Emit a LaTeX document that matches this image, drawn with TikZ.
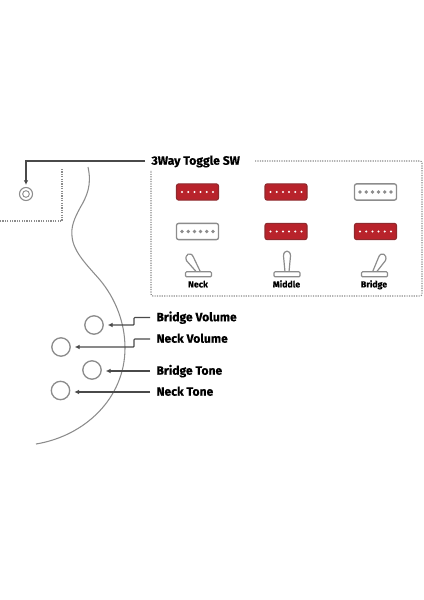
\documentclass[tikz,border=0pt]{standalone}
\usepackage{fontspec}
\setmainfont[BoldFeatures={FakeBold=0.35}]{Fira Sans}
\usetikzlibrary{arrows.meta}

\definecolor{pickred}{HTML}{B8232B}
\definecolor{pickedge}{HTML}{8E2A2E}
\definecolor{partgray}{HTML}{8C8C8C}
\definecolor{linegray}{HTML}{4A4A4A}

\tikzset{every picture/.style={line width=0.75pt}}
\tikzset{
  partlabel/.style={anchor=west, inner sep=0pt, text height=7.4pt, text depth=1.8pt, text=black, font=\fontsize{9.1}{11}\selectfont\bfseries},
  swlabel/.style={inner sep=0pt, text height=5pt, text depth=1.4pt, text=black, font=\fontsize{6.6}{8}\selectfont\bfseries},
  leader/.style={draw=linegray, line width=0.85pt, -{Latex[length=3.5pt,width=3.5pt]}, shorten <=4.5pt, shorten >=3pt},
  knob/.style={circle, draw=partgray, line width=1pt, minimum size=13.8pt, inner sep=0pt},
  dotbox/.style={draw=partgray, line width=0.9pt, dash pattern=on 0.9pt off 0.9pt},
  redpickup/.style={rectangle, rounded corners=1.6pt, draw=pickedge, fill=pickred, line width=0.8pt, minimum width=31.5pt, minimum height=12.2pt},
  whitepickup/.style={redpickup, draw=partgray, fill=white, line width=1pt}
}

\begin{document}
\begin{tikzpicture}[x=0.75pt, y=-0.75pt]
\useasboundingbox (0,0) rectangle (424,600);

% body outline
\draw[partgray, line width=0.8pt] (88,167) .. controls (92,185) and (87,196) .. (80,208)
    .. controls (74,219) and (71,227) .. (72,236)
    .. controls (73,252) and (88,266) .. (100,280)
    .. controls (115,298) and (125,322) .. (125,348)
    .. controls (125,398) and (85,436) .. (36,444);

% dotted edges
\draw[dotbox] (62,169) -- (62,221) -- (0,221);
\draw[dotbox, rounded corners=1.5pt] (255,161) -- (422,161) -- (422,296) -- (151,296) -- (151,170);

% jack
\node[knob, minimum size=9.8pt, line width=0.8pt] (jack) at (26,194) {};
\node[circle, draw=partgray, line width=0.7pt, minimum size=5pt, inner sep=0pt] (jackin) at (26,194) {};

% title
\node[partlabel] (title) at (151,161) {3Way Toggle SW};
\coordinate (bend) at (26,161);
\draw[leader, shorten >=1.5pt] (title.west) -- (bend) -- (jack.north);

% knobs
\node[knob] (bvknob) at (94,325) {};
\node[knob] (nvknob) at (61,347) {};
\node[knob] (btknob) at (92,370) {};
\node[knob] (ntknob) at (60.5,390.5) {};

\node[partlabel] (bvlabel) at (156,317.5) {Bridge Volume};
\node[partlabel] (nvlabel) at (156,339) {Neck Volume};
\node[partlabel] (btlabel) at (156,371) {Bridge Tone};
\node[partlabel] (ntlabel) at (156,392) {Neck Tone};

\draw[leader, rounded corners=0.6pt] (bvlabel.west) -- ++(-22,0) |- (bvknob.east);
\draw[leader, rounded corners=0.6pt] (nvlabel.west) -- ++(-22,0) |- (nvknob.east);
\draw[leader] (btlabel.west) -- (btlabel.west -| btknob.east);
\draw[leader] (ntlabel.west) -- (ntlabel.west -| ntknob.east);

% pickups
\foreach \name/\cx/\cy/\kind/\dotcol/\dotrad in {
    na/197.5/192/redpickup/white/0.85pt, nb/197.5/231.5/whitepickup/partgray/1.4pt,
    ma/286/192/redpickup/white/0.85pt, mb/286/231.5/redpickup/white/0.85pt,
    ba/375.5/192/whitepickup/partgray/1.4pt, bb/375.5/231.5/redpickup/white/0.85pt} {
  \node[\kind] (\name) at (\cx,\cy) {};
  \foreach \k in {-2.5,-1.5,-0.5,0.5,1.5,2.5} {
    \fill[\dotcol] (\cx+\k*6.2,\cy) circle (\dotrad);
  }
}

% switches
\foreach \cx/\tilt/\tiptop/\lbl in {198.5/-8.5/254/Neck, 287/0/251/Middle, 374.5/7.5/254/Bridge} {
  \pgfmathsetmacro{\lefty}{\tiptop+5-0.2*\tilt}
  \pgfmathsetmacro{\righty}{\tiptop+5+0.2*\tilt}
  \draw[partgray, line width=0.9pt, line join=round] (\cx-2,272)
      -- (\cx+\tilt-3.5,\lefty) .. controls (\cx+1.3*\tilt-3.5,\lefty-6.5) and (\cx+1.3*\tilt+3.5,\righty-6.5) .. (\cx+\tilt+3.5,\righty)
      -- (\cx+2,272);
  \draw[partgray, line width=0.9pt, fill=white, rounded corners=0.8pt] (\cx-13,271.8) rectangle (\cx+13,276.8);
  \node[swlabel] (sw\lbl) at (\cx-0.5,285) {\lbl};
}
\end{tikzpicture}
\end{document}
